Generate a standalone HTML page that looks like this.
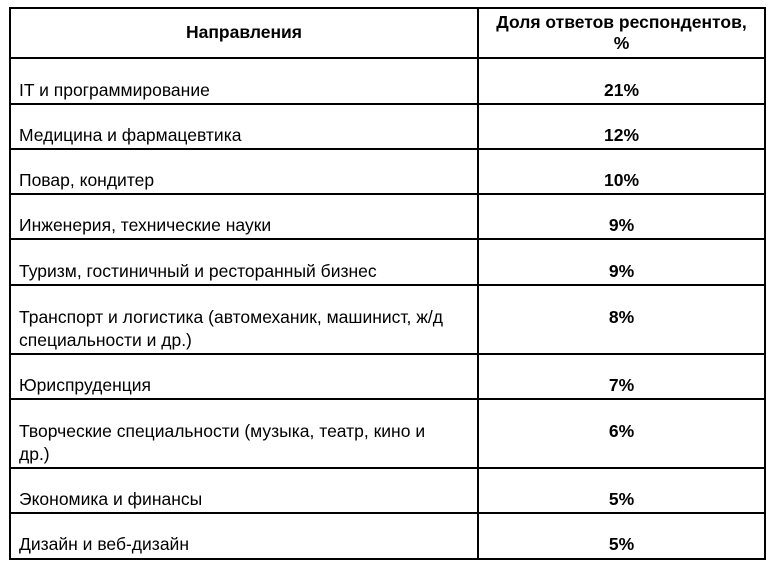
<!DOCTYPE html>
<html><head><meta charset="utf-8"><style>
body{margin:0;background:#fff;width:767px;height:562px;overflow:hidden;font-family:"Liberation Sans",Arial,sans-serif;font-size:17.5px;color:#000;position:relative}
.h{position:absolute;left:9px;width:757px;height:2px;background:#000}
.v{position:absolute;top:7px;height:553px;width:2px;background:#000}
.t{position:absolute;left:19px;line-height:23px;white-space:nowrap}
.p{position:absolute;left:479px;width:285px;text-align:center;font-weight:bold;line-height:23px}
</style></head><body>
<div class="h" style="top:7px"></div>
<div class="h" style="top:57px"></div>
<div class="h" style="top:103px"></div>
<div class="h" style="top:148px"></div>
<div class="h" style="top:193px"></div>
<div class="h" style="top:238px"></div>
<div class="h" style="top:284px"></div>
<div class="h" style="top:353px"></div>
<div class="h" style="top:398px"></div>
<div class="h" style="top:467px"></div>
<div class="h" style="top:512px"></div>
<div class="h" style="top:558px"></div>
<div class="v" style="left:9px"></div>
<div class="v" style="left:477px"></div>
<div class="v" style="left:764px"></div>

<div style="position:absolute;left:11px;width:466px;top:21px;text-align:center;font-weight:bold;line-height:23px">Направления</div>
<div style="position:absolute;left:479px;width:285px;top:12px;text-align:center;font-weight:bold;line-height:21px">Доля ответов респондентов,<br>%</div>

<div class="t" style="top:79px">IT и программирование</div><div class="p" style="top:79px">21%</div>
<div class="t" style="top:124px">Медицина и фармацевтика</div><div class="p" style="top:124px">12%</div>
<div class="t" style="top:169px">Повар, кондитер</div><div class="p" style="top:169px">10%</div>
<div class="t" style="top:214px">Инженерия, технические науки</div><div class="p" style="top:214px">9%</div>
<div class="t" style="top:260px">Туризм, гостиничный и ресторанный бизнес</div><div class="p" style="top:260px">9%</div>
<div class="t" style="top:306px">Транспорт и логистика (автомеханик, машинист, ж/д<br>специальности и др.)</div><div class="p" style="top:306px">8%</div>
<div class="t" style="top:374px">Юриспруденция</div><div class="p" style="top:374px">7%</div>
<div class="t" style="top:420px">Творческие специальности (музыка, театр, кино и<br>др.)</div><div class="p" style="top:420px">6%</div>
<div class="t" style="top:488px">Экономика и финансы</div><div class="p" style="top:488px">5%</div>
<div class="t" style="top:533px">Дизайн и веб-дизайн</div><div class="p" style="top:533px">5%</div>
</body></html>
